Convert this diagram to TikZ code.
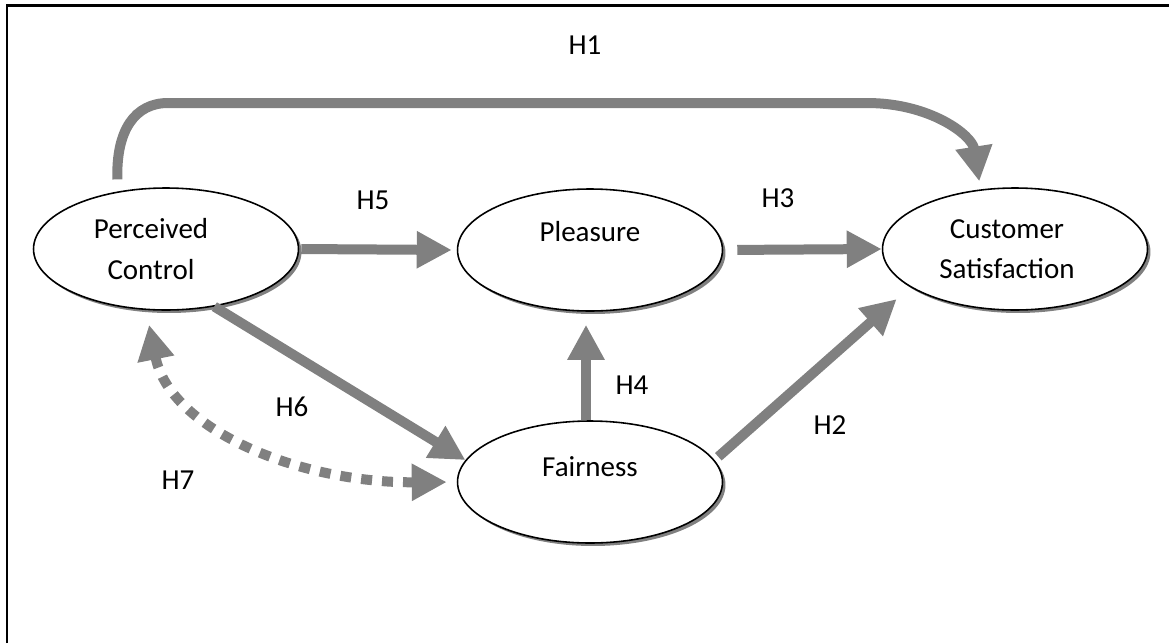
\documentclass[tikz,border=0pt]{standalone}
\usepackage{fontspec}
\setmainfont{Carlito}
\usetikzlibrary{arrows.meta, shadows, shapes.geometric}

\begin{document}
\begin{tikzpicture}[
		x=0.02cm, y=-0.02cm,
		latent/.style={
			ellipse, draw=black, line width=0.9pt, fill=white,
			minimum width=5.3cm, minimum height=2.44cm, inner sep=0pt, align=center,
			font=\fontsize{16.5}{23}\selectfont,
			drop shadow={fill=gray, opacity=1, shadow xshift=0.06cm, shadow yshift=-0.06cm}
		},
		arrow/.style={-{Triangle[length=0.7cm, width=0.7cm]}, line width=0.2cm, draw=gray},
		dotarrow/.style={{Triangle[length=0.7cm, width=0.7cm]}-{Triangle[length=0.7cm, width=0.7cm]},
			line width=0.2cm, draw=gray, dash pattern=on 0.22cm off 0.2cm},
		hyp/.style={font=\fontsize{16.5}{23}\selectfont, text=black, align=center}
		]
		
		\useasboundingbox (0,0) rectangle (1169,643);
		
		% Frame (top and left edges only)
		\draw[line width=0.06cm] (7,643) -- (7,5) -- (1169,5);
		
		% Constructs
		\node[latent, label={[hyp, xshift=-0.3cm]center:{Perceived\\Control}}] (pc) at (166,249) {};
		\node[latent, label={[hyp, yshift=0.36cm]center:Pleasure}] (pl) at (590,250) {};
		\node[latent, label={[hyp, xshift=-0.16cm]center:{Customer\\Satisfaction}}] (cs) at (1015,249) {};
		\node[latent, label={[hyp, yshift=0.3cm]center:Fairness}] (fa) at (590,482) {};
		
		% --- Hypothesised paths ---
		
		% H1: Perceived Control over the top to Customer Satisfaction
		\coordinate (h1a) at (168,103);
		\coordinate (h1b) at (867,103);
		\draw[arrow, shorten <=0.24cm, shorten >=0.16cm]
		(pc.130) .. controls (116,130) and (135,103) .. (h1a) -- (h1b)
		.. controls (930,103) and (972,135) .. (cs.120);
		
		% H5 and H3: along the middle row
		\draw[arrow, shorten <=0.04cm, shorten >=0.1cm] (pc.east) -- (pl.west);
		\draw[arrow, shorten <=0.28cm] (pl.east) -- (cs.west);
		
		% H4: Fairness up to Pleasure
		\draw[arrow, shorten >=0.26cm] ([xshift=-0.08cm]fa.north) -- ([xshift=-0.08cm]pl.south);
		
		% H6 and H2: diagonals
		\draw[arrow] (pc.-50) -- (fa.170);
		\draw[arrow, shorten <=0.1cm, shorten >=0.36cm] (fa.10) -- (cs.200);
		
		% H7: dotted two-way link
		\draw[dotarrow, shorten <=0.3cm, shorten >=0.2cm]
		(pc.-108) .. controls (170,430) and (300,483) .. (fa.west);
		
		% Labels
		\node[hyp] (h1) at (585,45) {H1};
		\node[hyp] (h5) at (373,200) {H5};
		\node[hyp] (h3) at (778,198) {H3};
		\node[hyp] (h4) at (632,385) {H4};
		\node[hyp] (h6) at (292,407) {H6};
		\node[hyp] (h7) at (178,480) {H7};
		\node[hyp] (h2) at (830,425) {H2};
		
	\end{tikzpicture}
\end{document}
